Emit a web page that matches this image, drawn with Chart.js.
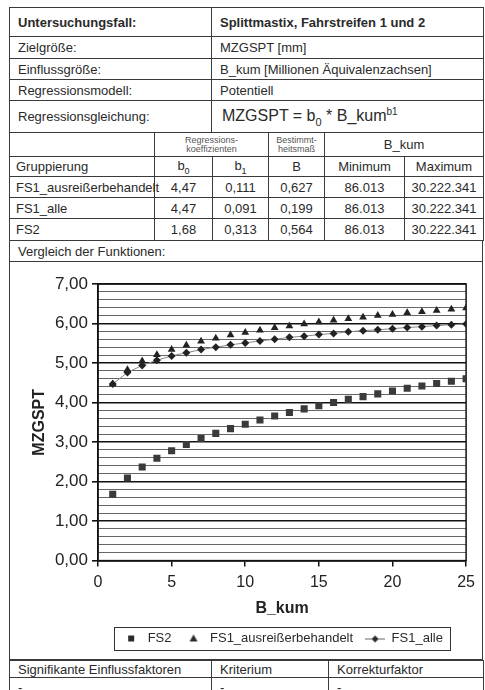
<!DOCTYPE html>
<html>
<head>
<meta charset="utf-8">
<script src="https://cdn.jsdelivr.net/npm/chart.js@4.4.1/dist/chart.umd.min.js"></script>
<style>
html, body { margin: 0; padding: 0; background: #fff; }
body { width: 485px; height: 690px; overflow: hidden; position: relative;
  font-family: "Liberation Sans", Arial, sans-serif; font-size: 13px; color: #2a2a2a; }
table { position: absolute; left: 9px; width: 474px; border-collapse: collapse; table-layout: fixed; }
td { border: 1px solid #3a3a3a; padding: 0 0 0 8px; white-space: nowrap; overflow: visible; }
.c { text-align: center; padding: 0; }
.small { font-size: 9px; line-height: 9px; color: #555; }
.eq { font-size: 16px; padding-left: 10px; }
#vergleich { position: absolute; left: 9px; top: 240px; width: 472px; height: 419px;
  border: 1px solid #3a3a3a; border-top: none; }
#vergleich .lbl { position: absolute; left: 8px; top: 4px; }
#vergleich .line { position: absolute; left: 0; top: 21px; width: 472px; border-top: 1px solid #3a3a3a; }
#myChart { position: absolute; left: 10px; top: 263px; }
</style>
</head>
<body>

<table style="top:7px">
  <colgroup><col style="width:202px"><col style="width:272px"></colgroup>
  <tr style="height:29px"><td style="font-weight:bold">Untersuchungsfall:</td><td style="font-weight:bold">Splittmastix, Fahrstreifen 1 und 2</td></tr>
  <tr style="height:22px"><td>Zielgröße:</td><td>MZGSPT [mm]</td></tr>
  <tr style="height:21px"><td>Einflussgröße:</td><td>B_kum [Millionen Äquivalenzachsen]</td></tr>
  <tr style="height:21px"><td>Regressionsmodell:</td><td>Potentiell</td></tr>
  <tr style="height:32px"><td>Regressionsgleichung:</td><td class="eq">MZGSPT = b<sub style="font-size:11px">0</sub> * B_kum<sup style="font-size:10px">b1</sup></td></tr>
</table>

<table style="top:132px">
  <colgroup><col style="width:145px"><col style="width:58px"><col style="width:56px"><col style="width:56px"><col style="width:80px"><col style="width:79px"></colgroup>
  <tr style="height:24px"><td></td><td class="c small" colspan="2">Regressions-<br>koeffizienten</td><td class="c small">Bestimmt-<br>heitsmaß</td><td class="c" colspan="2">B_kum</td></tr>
  <tr style="height:20px"><td style="padding-left:6px">Gruppierung</td><td class="c">b<sub style="font-size:9px">0</sub></td><td class="c">b<sub style="font-size:9px">1</sub></td><td class="c">B</td><td class="c">Minimum</td><td class="c">Maximum</td></tr>
  <tr style="height:21px"><td style="padding-left:6px">FS1_ausreißerbehandelt</td><td class="c">4,47</td><td class="c">0,111</td><td class="c">0,627</td><td class="c">86.013</td><td class="c">30.222.341</td></tr>
  <tr style="height:21px"><td style="padding-left:6px">FS1_alle</td><td class="c">4,47</td><td class="c">0,091</td><td class="c">0,199</td><td class="c">86.013</td><td class="c">30.222.341</td></tr>
  <tr style="height:22px"><td style="padding-left:6px">FS2</td><td class="c">1,68</td><td class="c">0,313</td><td class="c">0,564</td><td class="c">86.013</td><td class="c">30.222.341</td></tr>
</table>

<div id="vergleich"><span class="lbl">Vergleich der Funktionen:</span><div class="line"></div></div>
<canvas id="myChart" width="471" height="396"></canvas>

<table style="top:660px">
  <colgroup><col style="width:202px"><col style="width:117px"><col style="width:155px"></colgroup>
  <tr style="height:17px"><td>Signifikante Einflussfaktoren</td><td>Kriterium</td><td>Korrekturfaktor</td></tr>
  <tr style="height:20px"><td>-</td><td>-</td><td>-</td></tr>
</table>

<script>
// B_kum in Mio. Aequivalenzachsen (x)
let bKum = [1, 2, 3, 4, 5, 6, 7, 8, 9, 10, 11, 12, 13, 14, 15, 16, 17, 18, 19, 20, 21, 22, 23, 24, 25]
// MZGSPT [mm]
let fs2 = [1.68, 2.09, 2.37, 2.59, 2.78, 2.94, 3.09, 3.22, 3.34, 3.45, 3.56, 3.66, 3.75, 3.84, 3.92, 4.00, 4.08, 4.15, 4.22, 4.29, 4.36, 4.42, 4.48, 4.54, 4.60]
let fs1Ausreisser = [4.47, 4.83, 5.05, 5.21, 5.34, 5.45, 5.55, 5.63, 5.71, 5.77, 5.83, 5.89, 5.94, 5.99, 6.04, 6.08, 6.12, 6.16, 6.20, 6.23, 6.27, 6.30, 6.33, 6.36, 6.39]
let fs1Alle = [4.47, 4.76, 4.94, 5.07, 5.18, 5.26, 5.34, 5.40, 5.46, 5.51, 5.56, 5.60, 5.65, 5.68, 5.72, 5.75, 5.79, 5.82, 5.84, 5.87, 5.90, 5.92, 5.95, 5.97, 5.99]
let seriesNames = ['FS2', 'FS1_ausreißerbehandelt', 'FS1_alle']

Chart.defaults.font.family = '"Liberation Sans", Arial, sans-serif'
Chart.defaults.color = '#222'

function toPoints(ys) {
    return ys.map((y, i) => ({ x: bKum[i], y: y }))
}
function isMajor(v) {
    return Math.abs(v - Math.round(v)) < 1e-6
}

// little icons for the legend
function makeIcon(kind) {
    let c = document.createElement('canvas')
    c.width = 20; c.height = 12
    let g = c.getContext('2d')
    g.fillStyle = '#2a2a2a'
    if (kind == 'rect') {
        g.fillRect(7, 3, 6, 6)
    } else if (kind == 'triangle') {
        g.beginPath(); g.moveTo(10, 2); g.lineTo(14, 9); g.lineTo(6, 9); g.closePath(); g.fill()
    } else {
        g.strokeStyle = '#666'; g.lineWidth = 1
        g.beginPath(); g.moveTo(0, 6.5); g.lineTo(20, 6.5); g.stroke()
        g.beginPath(); g.moveTo(10, 3); g.lineTo(13.5, 6.5); g.lineTo(10, 10); g.lineTo(6.5, 6.5); g.closePath(); g.fill()
    }
    return c
}
let legendIcons = [makeIcon('rect'), makeIcon('triangle'), makeIcon('diamond')]

const framePlugin = {
    id: 'frame',
    beforeDatasetsDraw(chart) {
        let a = chart.chartArea, ctx = chart.ctx
        ctx.save()
        ctx.strokeStyle = '#111'
        ctx.lineWidth = 1.5
        ctx.strokeRect(a.left, a.top, a.right - a.left, a.bottom - a.top)
        ctx.restore()
    },
    afterDraw(chart) {
        let boxes = chart.legend.legendHitBoxes
        if (!boxes || !boxes.length) return
        let left = Math.min(...boxes.map(b => b.left)) - 7
        let right = Math.max(...boxes.map(b => b.left + b.width)) + 7
        let top = boxes[0].top - 5
        let bottom = boxes[0].top + boxes[0].height + 5
        let ctx = chart.ctx
        ctx.save()
        ctx.strokeStyle = '#333'
        ctx.lineWidth = 1
        ctx.strokeRect(Math.round(left) + 0.5, Math.round(top) + 0.5, Math.round(right - left), Math.round(bottom - top))
        ctx.restore()
    }
}

new Chart(document.querySelector('#myChart'), {
    type: 'scatter',
    data: {
        datasets: [{
            label: seriesNames[0],
            data: toPoints(fs2),
            pointStyle: 'rect',
            pointRadius: 5,
            backgroundColor: '#3a3a3a',
            borderColor: '#3a3a3a',
            borderWidth: 0
        }, {
            label: seriesNames[1],
            data: toPoints(fs1Ausreisser),
            pointStyle: 'triangle',
            pointRadius: 4.5,
            backgroundColor: '#222',
            borderColor: '#222',
            borderWidth: 0
        }, {
            label: seriesNames[2],
            data: toPoints(fs1Alle),
            showLine: true,
            borderColor: '#888',
            borderWidth: 1,
            pointStyle: 'rectRot',
            pointRadius: 4,
            pointBackgroundColor: '#222',
            pointBorderColor: '#222',
            pointBorderWidth: 0
        }]
    },
    options: {
        responsive: false,
        animation: false,
        devicePixelRatio: 1,
        layout: { padding: { left: 20, right: 14, top: 21, bottom: 4 } },
        plugins: {
            tooltip: { enabled: false },
            legend: {
                position: 'bottom',
                fullSize: false,
                labels: {
                    usePointStyle: true,
                    pointStyleWidth: 20,
                    padding: 12,
                    color: '#2a2a2a',
                    font: { size: 13 },
                    generateLabels(chart) {
                        let items = Chart.defaults.plugins.legend.labels.generateLabels(chart)
                        items.forEach((it, i) => { it.pointStyle = legendIcons[i] })
                        return items
                    }
                }
            }
        },
        scales: {
            x: {
                type: 'linear',
                min: 0,
                max: 25,
                ticks: { stepSize: 5, font: { size: 16 }, padding: 6, color: '#222' },
                grid: { drawOnChartArea: false, tickLength: 6, color: '#111', lineWidth: 1.5 },
                border: { color: '#111', width: 1.5 },
                title: { display: true, text: 'B_kum', font: { size: 16, weight: 'bold' }, padding: { top: 1, bottom: 2 }, color: '#222' }
            },
            y: {
                min: 0,
                max: 7,
                afterFit(scale) { scale.width = 68 },
                ticks: {
                    stepSize: 0.2,
                    autoSkip: false,
                    font: { size: 17 },
                    padding: 4,
                    color: '#222',
                    callback: v => isMajor(v) ? v.toFixed(2).replace('.', ',') : ''
                },
                grid: {
                    tickLength: 6,
                    color: c => isMajor(c.tick.value) ? '#111' : '#666',
                    lineWidth: c => isMajor(c.tick.value) ? 1.6 : 1,
                    tickColor: c => isMajor(c.tick.value) ? '#111' : 'rgba(0,0,0,0)'
                },
                border: { color: '#111', width: 1.5 },
                title: { display: true, text: 'MZGSPT', font: { size: 16, weight: 'bold' }, padding: { top: 0, bottom: 0 }, color: '#222' }
            }
        }
    },
    plugins: [framePlugin]
})
</script>
</body>
</html>
